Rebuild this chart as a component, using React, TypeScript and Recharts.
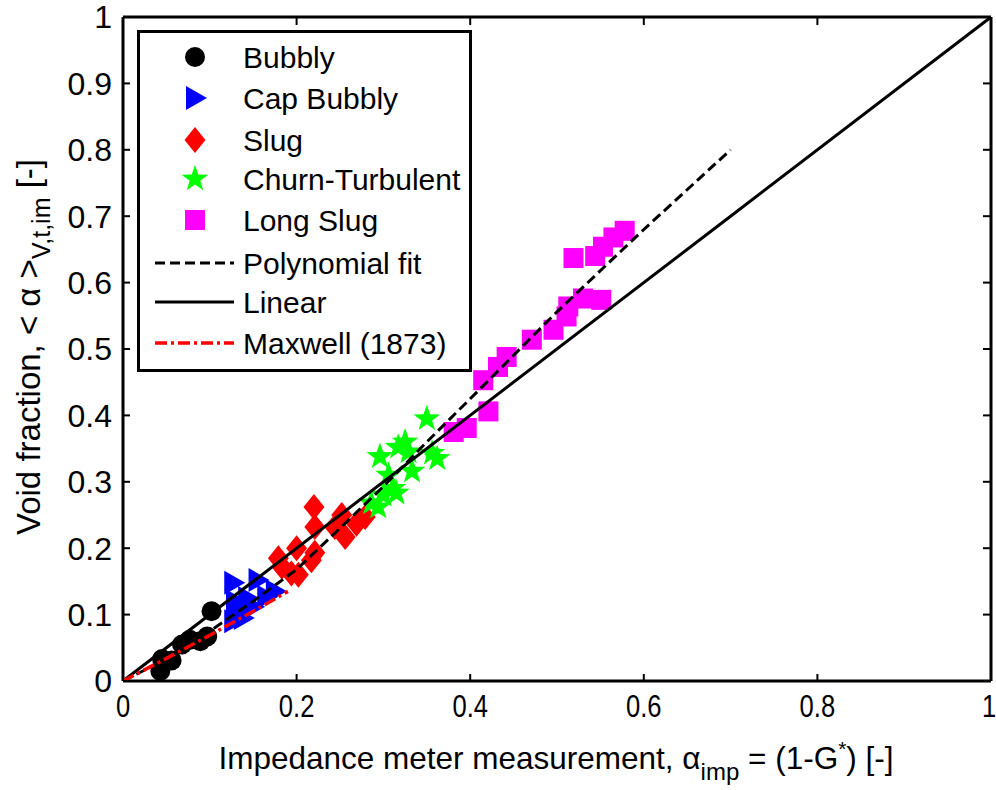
import { ScatterChart, Scatter, XAxis, YAxis, Legend } from 'recharts'

// measured points, [x, y]
const bubbly = [
  [0.043, 0.015], [0.045, 0.033], [0.056, 0.031], [0.068, 0.055],
  [0.077, 0.062], [0.089, 0.06], [0.097, 0.067], [0.102, 0.105],
]
const capBubbly = [
  [0.127, 0.148], [0.155, 0.152], [0.129, 0.12], [0.143, 0.125], [0.165, 0.127],
  [0.175, 0.135], [0.127, 0.09], [0.138, 0.095], [0.131, 0.105], [0.15, 0.112],
]
const slug = [
  [0.179, 0.185], [0.183, 0.172], [0.194, 0.162], [0.2, 0.2], [0.202, 0.16],
  [0.22, 0.262], [0.221, 0.232], [0.221, 0.193], [0.217, 0.182], [0.244, 0.232],
  [0.252, 0.25], [0.256, 0.217], [0.269, 0.237], [0.279, 0.247],
]
const churn = [
  [0.35, 0.395], [0.296, 0.338], [0.317, 0.352], [0.325, 0.36], [0.329, 0.345],
  [0.306, 0.31], [0.333, 0.316], [0.356, 0.343], [0.362, 0.335], [0.286, 0.268],
  [0.294, 0.262], [0.311, 0.29], [0.315, 0.283], [0.3, 0.28],
]
const longSlug = [
  [0.381, 0.375], [0.396, 0.381], [0.421, 0.406], [0.415, 0.453], [0.432, 0.473],
  [0.442, 0.488], [0.471, 0.514], [0.496, 0.529], [0.511, 0.549], [0.513, 0.564],
  [0.53, 0.576], [0.551, 0.574], [0.519, 0.637], [0.544, 0.64], [0.553, 0.654],
  [0.565, 0.668], [0.578, 0.678],
]

// fitted curves
const polyFit = [
  [0, 0], [0.05, 0.033], [0.1, 0.075], [0.15, 0.12], [0.2, 0.168], [0.25, 0.23],
  [0.3, 0.293], [0.35, 0.36], [0.4, 0.425], [0.5, 0.556], [0.6, 0.68], [0.7, 0.8],
]
const linear = [[0, 0], [0.7, 0.7], [1, 1]]
const maxwell = [[0, 0], [0.05, 0.034], [0.1, 0.069], [0.15, 0.105], [0.19, 0.135]]

const ticks = [0, 0.2, 0.4, 0.6, 0.8, 1]
const yTicks = [0, 0.1, 0.2, 0.3, 0.4, 0.5, 0.6, 0.7, 0.8, 0.9, 1]

const FONT = '"Liberation Sans", Arial, sans-serif'
const toPts = (arr: number[][]) => arr.map(([x, y]) => ({ x, y }))

const circleShape = (p: any) => <circle cx={p.cx} cy={p.cy} r={10} fill="#000" />
const triShape = (p: any) => (
  <polygon points={`${p.cx - 9},${p.cy - 12} ${p.cx + 12},${p.cy} ${p.cx - 9},${p.cy + 12}`} fill="#0000ff" />
)
const diamondShape = (p: any) => (
  <polygon points={`${p.cx},${p.cy - 13} ${p.cx + 10.5},${p.cy} ${p.cx},${p.cy + 13} ${p.cx - 10.5},${p.cy}`} fill="#ff0000" />
)
const starPoints = (cx: number, cy: number, R: number, r: number) => {
  const pts: string[] = []
  for (let i = 0; i < 10; i++) {
    const a = -Math.PI / 2 + (i * Math.PI) / 5
    const rad = i % 2 === 0 ? R : r
    pts.push(`${cx + rad * Math.cos(a)},${cy + rad * Math.sin(a)}`)
  }
  return pts.join(' ')
}
const starShape = (p: any) => <polygon points={starPoints(p.cx, p.cy, 14, 5.6)} fill="#00ff00" />
const squareShape = (p: any) => <rect x={p.cx - 10} y={p.cy - 10} width={20} height={20} fill="#ff00ff" />
const noShape = () => <g />

// ticks pointing into the plot, MATLAB style
const BottomTick = (p: any) => {
  // keep the last label inside the page edge
  const shift = p.index === ticks.length - 1 ? -2 : 0
  return (
    <g>
      <line x1={p.x} x2={p.x} y1={p.y} y2={p.y - 7} stroke="#000" strokeWidth={2} />
      <text transform={`translate(${p.x + shift},${p.y + 13}) scale(0.8,1)`} textAnchor="middle" dy="0.71em"
        fontSize={32} fontFamily={FONT} fill="#000">{p.payload.value}</text>
    </g>
  )
}
const TopTick = (p: any) => (
  <line x1={p.x} x2={p.x} y1={p.y + 1} y2={p.y + 8} stroke="#000" strokeWidth={2} />
)
const LeftTick = (p: any) => (
  <g>
    <line x1={p.x} x2={p.x + 7} y1={p.y} y2={p.y} stroke="#000" strokeWidth={2} />
    <text x={p.x - 11} y={p.y} textAnchor="end" dy="0.355em" fontSize={32} fontFamily={FONT} fill="#000">
      {p.payload.value}
    </text>
  </g>
)
const RightTick = (p: any) => (
  <line x1={p.x - 1} x2={p.x - 8} y1={p.y} y2={p.y} stroke="#000" strokeWidth={2} />
)

const XTitle = (props: any) => {
  const vb = props.viewBox
  return (
    <text x={vb.x + vb.width / 2 - 1} y={vb.y + 88} textAnchor="middle" fontSize={31.5} fontFamily={FONT} fill="#000">
      <tspan>Impedance meter measurement,  α</tspan>
      <tspan fontSize={24} dy={11}>imp</tspan>
      <tspan dy={-11}> = (1-G</tspan>
      <tspan fontSize={21} dy={-13}>*</tspan>
      <tspan dy={13}>) [-]</tspan>
    </text>
  )
}
const YTitle = (props: any) => {
  const vb = props.viewBox
  const x = 40
  const y = vb.y + vb.height / 2 - 2
  return (
    <text x={x} y={y} transform={`rotate(-90,${x},${y})`} textAnchor="middle" fontSize={33} fontFamily={FONT} fill="#000">
      <tspan>Void fraction,  &lt; α &gt;</tspan>
      <tspan fontSize={25} dy={10}>V,t,im</tspan>
      <tspan dy={-10}> [-]</tspan>
    </text>
  )
}

const legendItems = [
  { name: 'Bubbly', kind: 'circle' },
  { name: 'Cap Bubbly', kind: 'tri' },
  { name: 'Slug', kind: 'diamond' },
  { name: 'Churn-Turbulent', kind: 'star' },
  { name: 'Long Slug', kind: 'square' },
  { name: 'Polynomial fit', kind: 'dash' },
  { name: 'Linear', kind: 'solid' },
  { name: 'Maxwell (1873)', kind: 'dashdot' },
]
const rowY = [27, 68, 110, 149, 190, 233, 272, 313]

const LegendBox = () => (
  <div style={{ width: 335, height: 342, border: '3px solid #000', boxSizing: 'border-box', background: '#fff' }}>
    <svg width={329} height={336} style={{ display: 'block' }}>
      {legendItems.map((it, i) => {
        const cy = rowY[i] - 3
        const cx = 55
        let mark = null
        if (it.kind === 'circle') mark = circleShape({ cx, cy })
        if (it.kind === 'tri') mark = triShape({ cx, cy })
        if (it.kind === 'diamond') mark = diamondShape({ cx, cy })
        if (it.kind === 'star') mark = starShape({ cx, cy })
        if (it.kind === 'square') mark = squareShape({ cx, cy })
        if (it.kind === 'dash') mark = <line x1={15} x2={94} y1={cy} y2={cy} stroke="#000" strokeWidth={3} strokeDasharray="10 5" />
        if (it.kind === 'solid') mark = <line x1={15} x2={94} y1={cy} y2={cy} stroke="#000" strokeWidth={3} />
        if (it.kind === 'dashdot') mark = <line x1={15} x2={94} y1={cy} y2={cy} stroke="#ff0000" strokeWidth={3.5} strokeDasharray="12 4 3 4" />
        return (
          <g key={it.name}>
            {mark}
            <text x={103} y={cy} dy="0.355em" fontSize={30} fontFamily={FONT} fill="#000">{it.name}</text>
          </g>
        )
      })}
    </svg>
  </div>
)

export default function App() {
  return (
    <>
      <style>{'body { margin: 0; } svg.recharts-surface { overflow: visible; }'}</style>
      <ScatterChart width={996} height={790} margin={{ top: 16, right: 4, left: 0, bottom: 0 }}
        style={{ fontFamily: FONT, background: '#fff' }}>
        <XAxis dataKey="x" type="number" domain={[0, 1]} ticks={ticks} tickSize={0} tickMargin={0} height={109}
          axisLine={{ stroke: '#000', strokeWidth: 3 }} tickLine={false} tick={<BottomTick />}
          label={<XTitle />} allowDataOverflow />
        <XAxis xAxisId="top" orientation="top" dataKey="x" type="number" domain={[0, 1]} ticks={ticks} height={1}
          tickSize={0} tickMargin={0} axisLine={{ stroke: '#000', strokeWidth: 3 }} tickLine={false} tick={<TopTick />}
          allowDataOverflow />
        <YAxis dataKey="y" type="number" domain={[0, 1]} ticks={yTicks} width={123} tickSize={0} tickMargin={0}
          axisLine={{ stroke: '#000', strokeWidth: 3 }} tickLine={false} tick={<LeftTick />}
          label={<YTitle />} allowDataOverflow />
        <YAxis yAxisId="right" orientation="right" dataKey="y" type="number" domain={[0, 1]} ticks={yTicks} width={1}
          tickSize={0} tickMargin={0} axisLine={{ stroke: '#000', strokeWidth: 3 }} tickLine={false} tick={<RightTick />}
          allowDataOverflow />
        <Legend layout="vertical" align="center" verticalAlign="middle" content={<LegendBox />}
          wrapperStyle={{ left: 137, top: 30, width: 335, height: 342 }} />
        <Scatter name="Bubbly" data={toPts(bubbly)} shape={circleShape} isAnimationActive={false} />
        <Scatter name="Cap Bubbly" data={toPts(capBubbly)} shape={triShape} isAnimationActive={false} />
        <Scatter name="Slug" data={toPts(slug)} shape={diamondShape} isAnimationActive={false} />
        <Scatter name="Churn-Turbulent" data={toPts(churn)} shape={starShape} isAnimationActive={false} />
        <Scatter name="Long Slug" data={toPts(longSlug)} shape={squareShape} isAnimationActive={false} />
        <Scatter name="Linear" data={toPts(linear)} xAxisId="top" yAxisId="right" shape={noShape}
          line={{ stroke: '#000', strokeWidth: 3 }} isAnimationActive={false} />
        <Scatter name="Polynomial fit" data={toPts(polyFit)} shape={noShape}
          line={{ stroke: '#000', strokeWidth: 3, strokeDasharray: '10 5' }} isAnimationActive={false} />
        <Scatter name="Maxwell (1873)" data={toPts(maxwell)} shape={noShape}
          line={{ stroke: '#ff0000', strokeWidth: 3.5, strokeDasharray: '12 4 3 4' }} isAnimationActive={false} />
      </ScatterChart>
    </>
  )
}
